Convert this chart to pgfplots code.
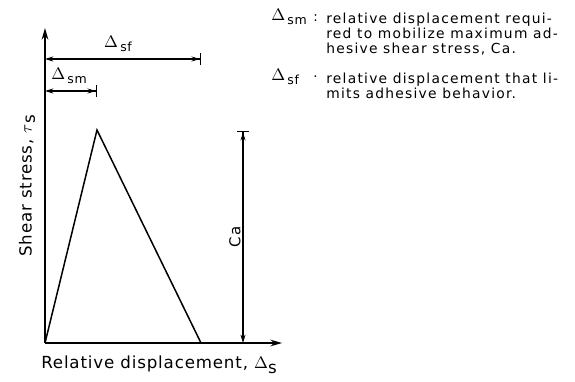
\documentclass[border=0pt]{standalone}
\usepackage{fontspec}
\setmainfont{DejaVu Sans}[LetterSpace=5]
\newfontfamily\legfont{DejaVu Sans}[LetterSpace=9]
\usepackage{pgfplots}
\pgfplotsset{compat=1.18}
\usetikzlibrary{arrows.meta}
\newcommand{\sub}[1]{\raisebox{-2pt}{\fontsize{7.5}{8}\selectfont #1}}
\newcommand{\D}{{\fontsize{10}{10}\selectfont$\Delta$}}
\begin{document}
\begin{tikzpicture}
\begin{axis}[
    scale only axis,
    width=142.2pt, height=189pt,
    xmin=0, xmax=237, ymin=0, ymax=315,
    axis lines=left,
    axis line style={line width=0.8pt, -{Stealth[length=7pt,width=4pt]}},
    xtick=\empty, ytick=\empty,
    clip=false,
    font=\fontsize{8}{9}\selectfont,
]
% triangle: origin, peak at (Dsm, Ca), end at Dsf
\addplot[black, line width=0.9pt] coordinates {(0,0) (52,213) (156,0)};

% dimension arrows
\draw[line width=0.7pt, {Stealth[length=5pt,width=3pt]}-{Stealth[length=5pt,width=3pt]Bar[width=7pt]}]
    (axis cs:0,284) -- (axis cs:156,284);
\draw[line width=0.7pt, {Stealth[length=5pt,width=3pt]}-{Stealth[length=5pt,width=3pt]Bar[width=7pt]}]
    (axis cs:0,252) -- (axis cs:52,252);
\draw[line width=0.7pt, {Stealth[length=5pt,width=3pt]}-{Stealth[length=5pt,width=3pt]Bar[width=7pt]}]
    (axis cs:198,0) -- (axis cs:198,212);

\node at (axis cs:73,299) {\D\,\sub{sf}};
\node at (axis cs:24,267) {\D\,\sub{sm}};
\node[rotate=90, font=\fontsize{9}{10}\selectfont] at (axis cs:190,106) {Ca};

\node[rotate=90, font=\fontsize{10}{12}\selectfont] at (axis cs:-18,157) {Shear stress, $\tau$\raisebox{-2pt}{s}};
\node[font=\fontsize{10}{12}\selectfont] at (axis cs:114,-22) {Relative displacement, $\Delta$\raisebox{-3pt}{s}};

% legend text
\node[anchor=north west, inner sep=0pt] at (axis cs:226,334) {\D\,\sub{sm}};
\node[anchor=north west, inner sep=0pt] at (axis cs:268,329) {:};
\node[anchor=north west, inner sep=0pt, align=left, font=\legfont\fontsize{8.3}{9}\selectfont] at (axis cs:281,330)
    {relative displacement requi-\\red to mobilize maximum ad-\\hesive shear stress, Ca.};
\node[anchor=north west, inner sep=0pt] at (axis cs:226,274) {\D\,\sub{sf}};
\node[anchor=north west, inner sep=0pt] at (axis cs:268,267) {.};
\node[anchor=north west, inner sep=0pt, align=left, font=\legfont\fontsize{8.3}{9}\selectfont] at (axis cs:281,270)
    {relative displacement that li-\\mits adhesive behavior.};

\coordinate (bl) at (axis cs:-45,-38);
\coordinate (tr) at (axis cs:530,343);
\end{axis}
\pgfresetboundingbox
\path (bl) rectangle (tr);
\end{tikzpicture}
\end{document}
